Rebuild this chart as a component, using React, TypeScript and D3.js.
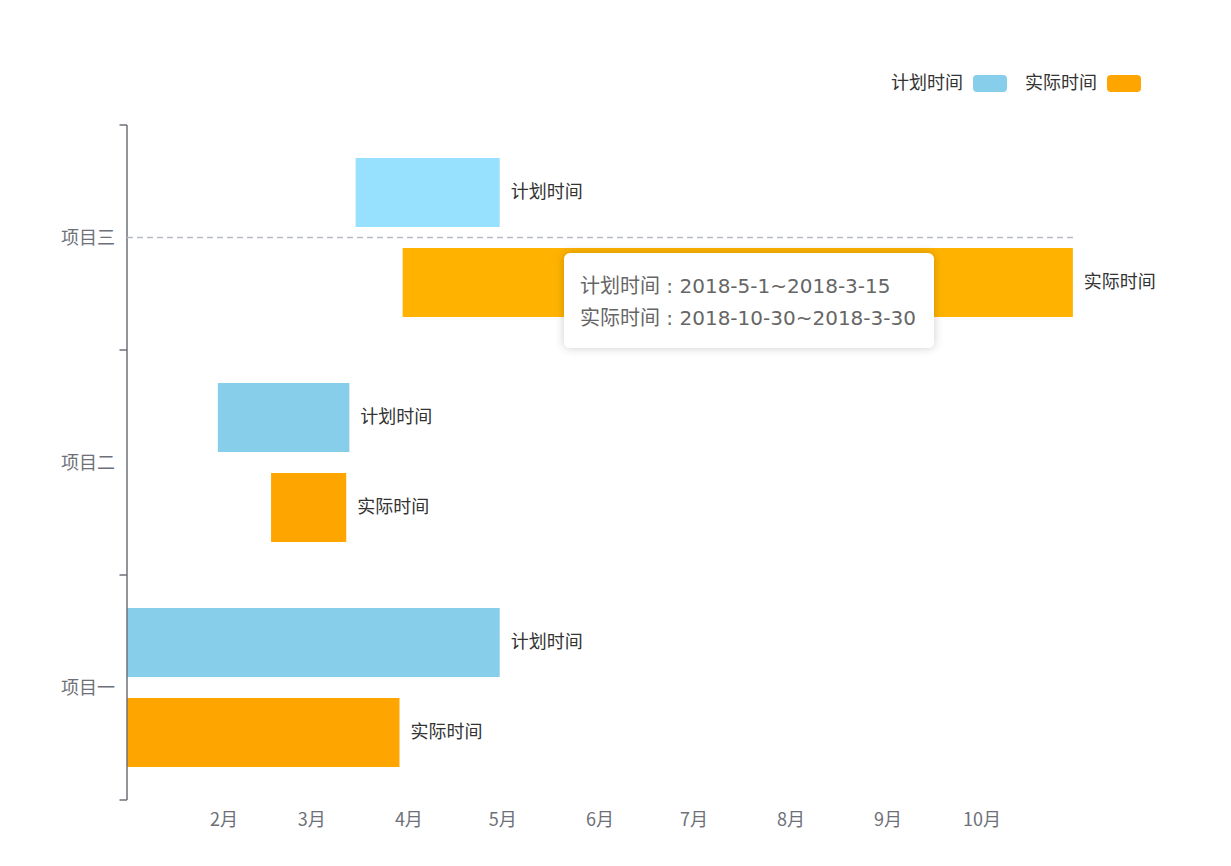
import React from 'react';
import * as d3 from 'd3';

// chart data
const categories = ['项目一', '项目二', '项目三'];
const seriesNames = ['计划时间', '实际时间'];
const planStart = ['2018-01-01', '2018-01-30', '2018-03-15'];
const planEnd = ['2018-04-30', '2018-03-13', '2018-04-30'];
const actualStart = ['2018-01-01', '2018-02-16', '2018-03-30'];
const actualEnd = ['2018-03-29', '2018-03-12', '2018-10-30'];
const monthTicks = ['2018-02-01', '2018-03-01', '2018-04-01', '2018-05-01', '2018-06-01', '2018-07-01', '2018-08-01', '2018-09-01', '2018-10-01'];
const tooltipLines = ['计划时间 : 2018-5-1~2018-3-15', '实际时间 : 2018-10-30~2018-3-30'];
const hovered = '项目三';

const W = 1231;
const H = 866;
const colors = ['#87CEEB', '#FFA500'];
const hoverColors = ['#97E1FF', '#FFB300'];
const FONT = '"Microsoft YaHei", "Noto Sans CJK SC", sans-serif';
const TIP_FONT = '"DejaVu Sans", "Noto Sans CJK SC", sans-serif';

const parse = d3.utcParse('%Y-%m-%d');

export default function App() {
  const x = d3.scaleUtc()
    .domain([parse('2018-01-01')!, parse('2018-10-31')!])
    .range([127, 1076]);

  const y = d3.scaleBand<string>()
    .domain([...categories].reverse())
    .range([125, 800])
    .padding(0);

  const sub = d3.scaleBand<string>()
    .domain(seriesNames)
    .range([0, y.bandwidth()])
    .paddingInner(0.2333)
    .paddingOuter(0.3667);

  const bars: { cat: string; s: number; start: Date; end: Date }[] = [];
  categories.forEach((cat, i) => {
    bars.push({ cat, s: 0, start: parse(planStart[i])!, end: parse(planEnd[i])! });
    bars.push({ cat, s: 1, start: parse(actualStart[i])!, end: parse(actualEnd[i])! });
  });

  const bandEdges = [...y.domain().map(d => y(d)!), y.range()[1]];
  const [x0, x1] = x.range();

  return (
    <div style={{ position: 'absolute', left: 0, top: 0 }}>
      <svg width={W} height={H} style={{ display: 'block', fontFamily: FONT }}>
        <defs>
          <filter id="tipShadow" x="-20%" y="-30%" width="140%" height="160%">
            <feDropShadow dx="0" dy="0" stdDeviation="5" floodColor="#000" floodOpacity="0.2" />
          </filter>
        </defs>
        <rect width={W} height={H} fill="#fff" />

        {/* legend */}
        {seriesNames.map((name, i) => {
          const sx = 973 + i * 134;
          return (
            <g key={name}>
              <text x={sx - 10} y={81} textAnchor="end" dominantBaseline="central" fontSize={18} fill="#333">{name}</text>
              <rect x={sx} y={75} width={34} height={17} rx={4} fill={colors[i]} />
            </g>
          );
        })}

        {/* bars */}
        {bars.map((b, i) => {
          const by = y(b.cat)! + sub(seriesNames[b.s])!;
          const bx = x(b.start);
          const bw = x(b.end) - bx;
          const fill = b.cat === hovered ? hoverColors[b.s] : colors[b.s];
          return (
            <g key={i}>
              <rect x={bx} y={by} width={bw} height={sub.bandwidth()} fill={fill} />
              <text x={bx + bw + 11} y={by + sub.bandwidth() / 2 - 2.5} dominantBaseline="central" fontSize={18} fill="#333">
                {seriesNames[b.s]}
              </text>
            </g>
          );
        })}

        {/* y axis */}
        <line x1={x0} x2={x0} y1={125} y2={800} stroke="#6E7079" strokeWidth={1.5} />
        {bandEdges.map((v, i) => (
          <line key={i} x1={x0 - 7.5} x2={x0} y1={v} y2={v} stroke="#6E7079" strokeWidth={1.5} />
        ))}
        {categories.map(c => (
          <text key={c} x={x0 - 12} y={y(c)! + y.bandwidth() / 2 - 2} textAnchor="end" dominantBaseline="central" fontSize={18} fill="#6E7079">{c}</text>
        ))}

        {/* x axis labels */}
        {monthTicks.map(t => {
          const d = parse(t)!;
          return (
            <text key={t} x={x(d)} y={818} textAnchor="middle" dominantBaseline="central" fontSize={18} fill="#6E7079">
              {`${d.getUTCMonth() + 1}月`}
            </text>
          );
        })}

        {/* axis pointer */}
        <line x1={x0} x2={x1} y1={y(hovered)! + y.bandwidth() / 2} y2={y(hovered)! + y.bandwidth() / 2}
          stroke="#B6BAC4" strokeWidth={1.5} strokeDasharray="6 4" />

        {/* tooltip */}
        <g>
          <rect x={564} y={253} width={370} height={95} rx={6} fill="#fff" filter="url(#tipShadow)" />
          {tooltipLines.map((t, i) => (
            <text key={i} x={580} y={286 + i * 32} dominantBaseline="central" fontSize={20} fill="#666" fontFamily={TIP_FONT}>{t}</text>
          ))}
        </g>
      </svg>
    </div>
  );
}
